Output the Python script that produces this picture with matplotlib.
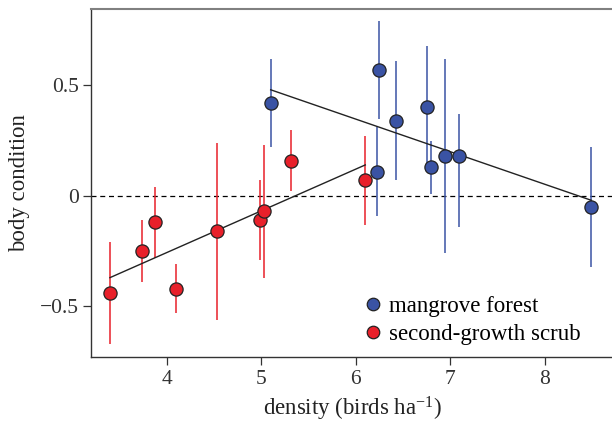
import matplotlib
matplotlib.use("Agg")
import matplotlib.pyplot as plt
from matplotlib.lines import Line2D

plt.rcParams['font.family'] = ['Liberation Serif', 'DejaVu Serif']
plt.rcParams['mathtext.fontset'] = 'custom'
plt.rcParams['mathtext.rm'] = 'Liberation Serif'
plt.rcParams['mathtext.it'] = 'Liberation Serif:italic'

# mangrove forest (blue)
mangroveX = [5.10, 6.24, 6.22, 6.42, 6.75, 6.79, 6.94, 7.09, 8.49]
mangroveY = [0.42, 0.57, 0.11, 0.34, 0.40, 0.13, 0.18, 0.18, -0.05]
mangroveLo = [0.22, 0.35, -0.09, 0.07, 0.12, 0.01, -0.26, -0.14, -0.32]
mangroveHi = [0.62, 0.79, 0.31, 0.61, 0.68, 0.25, 0.62, 0.37, 0.22]
mangroveFitX = [5.10, 8.49]
mangroveFitY = [0.48, -0.02]

# second-growth scrub (red)
scrubX = [3.40, 3.74, 3.88, 4.10, 4.53, 4.99, 5.03, 5.32, 6.10]
scrubY = [-0.44, -0.25, -0.12, -0.42, -0.16, -0.11, -0.07, 0.16, 0.07]
scrubLo = [-0.67, -0.39, -0.28, -0.53, -0.56, -0.29, -0.37, 0.02, -0.13]
scrubHi = [-0.21, -0.11, 0.04, -0.31, 0.24, 0.07, 0.23, 0.30, 0.27]
scrubFitX = [3.40, 6.10]
scrubFitY = [-0.37, 0.14]

blue = "#3a53a4"
red = "#e8202a"

fig = plt.figure(figsize=(6.12, 4.23), dpi=100)
ax = fig.add_axes([0.1487, 0.156, 0.853, 0.823])

ax.axhline(0, color="black", lw=0.9, ls=(0, (4, 3)), zorder=1)

ax.vlines(scrubX, scrubLo, scrubHi, color=red, lw=1.1, zorder=2)
ax.vlines(mangroveX, mangroveLo, mangroveHi, color=blue, lw=1.1, zorder=2)
ax.plot(scrubFitX, scrubFitY, color="#222222", lw=1.0, zorder=3)
ax.plot(mangroveFitX, mangroveFitY, color="#222222", lw=1.0, zorder=3)
ax.plot(scrubX, scrubY, "o", ms=9.5, mfc=red, mec="#222222", mew=0.9, zorder=4)
ax.plot(mangroveX, mangroveY, "o", ms=9.5, mfc=blue, mec="#222222", mew=0.9, zorder=4)

ax.set_xlim(3.2, 8.72)
ax.set_ylim(-0.729, 0.846)
ax.set_xticks([4, 5, 6, 7, 8])
ax.set_yticks([-0.5, 0, 0.5])
ax.set_yticklabels(["\u22120.5", "0", "0.5"])
ax.tick_params(labelsize=15.5, direction="out", length=6, width=0.9, colors="#333333")
ax.tick_params(axis="y", pad=3)

ax.spines["right"].set_visible(False)
ax.spines["top"].set_color("#808080")
ax.spines["top"].set_linewidth(1.5)
for s in ["left", "bottom"]:
    ax.spines[s].set_color("#333333")
    ax.spines[s].set_linewidth(1.0)

ax.set_xlabel("density (birds ha$^{\u22121}$)", fontsize=16.5, color="#222222", labelpad=4)
ax.set_ylabel("body condition", fontsize=16.5, color="#222222", labelpad=7)

handles = [
    Line2D([], [], ls="", marker="o", ms=9, mfc=blue, mec="#222222", mew=0.9),
    Line2D([], [], ls="", marker="o", ms=9, mfc=red, mec="#222222", mew=0.9),
]
ax.legend(handles, ["mangrove forest", "second-growth scrub"], loc="lower left",
          bbox_to_anchor=(0.487, -0.004), frameon=False, fontsize=16.5,
          handletextpad=0.1, labelspacing=0.3, handlelength=1.2, borderaxespad=0.2)

fig.savefig("out.png", dpi=100)
